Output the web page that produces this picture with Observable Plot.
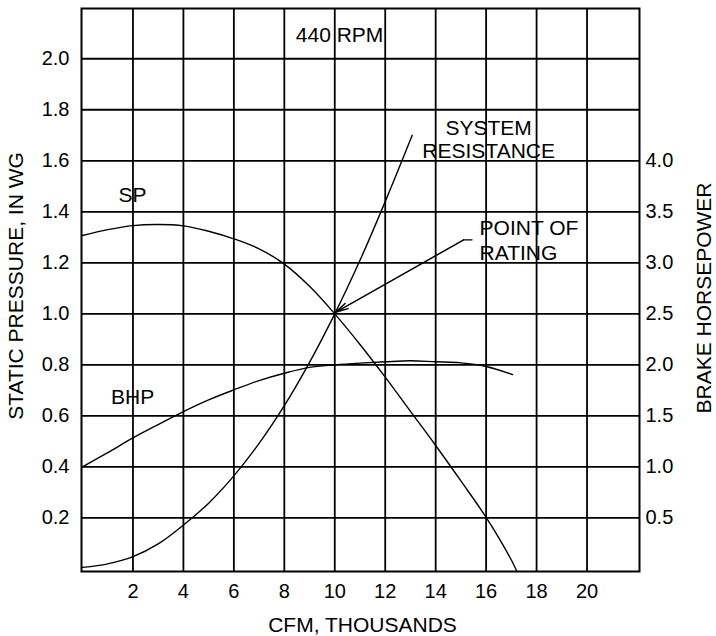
<!DOCTYPE html>
<html>
<head>
<meta charset="utf-8">
<script src="https://cdn.jsdelivr.net/npm/d3@7"></script>
<script src="https://cdn.jsdelivr.net/npm/@observablehq/plot@0.6"></script>
<style>
html, body { margin: 0; padding: 0; background: #fff; }
#chart svg { display: block; }
</style>
</head>
<body>
<div id="chart"></div>
<script>
// Static pressure curve (in. WG) vs CFM (thousands)
const spCfm    = [0, 1, 2, 3, 4, 5, 6, 7, 8, 9, 10, 11, 12, 13, 14, 15, 16, 17, 17.22];
const spValues = [1.307, 1.33, 1.346, 1.35, 1.345, 1.324, 1.294, 1.255, 1.195, 1.108, 1.0, 0.88, 0.752, 0.618, 0.484, 0.345, 0.202, 0.035, -0.01];

// Brake horsepower curve (read on right axis)
const bhpCfm    = [0, 1, 2, 3, 4, 5, 6, 7, 8, 9, 10, 11, 12, 13, 14, 15, 16, 17.05];
const bhpValues = [1.0, 1.14, 1.284, 1.415, 1.542, 1.657, 1.755, 1.846, 1.918, 1.976, 2.0, 2.017, 2.03, 2.04, 2.03, 2.02, 1.984, 1.905];

// System resistance curve (in. WG)
const sysCfm    = [0, 1, 2, 3, 4, 5, 6, 7, 8, 9, 10, 11, 12, 13.07];
const sysValues = [0.006, 0.02, 0.048, 0.098, 0.172, 0.258, 0.365, 0.492, 0.64, 0.81, 1.0, 1.21, 1.44, 1.70];

// Tick labels
const xTicks   = [2, 4, 6, 8, 10, 12, 14, 16, 18, 20];
const spTicks  = [0.2, 0.4, 0.6, 0.8, 1.0, 1.2, 1.4, 1.6, 1.8, 2.0];
const bhpTicks = [0.5, 1.0, 1.5, 2.0, 2.5, 3.0, 3.5, 4.0];
const bhpPerSp = 2.5; // right axis: BHP = 2.5 × left-axis value

// Axis titles
const xTitle = "CFM, THOUSANDS";
const leftTitle = "STATIC PRESSURE, IN WG";
const rightTitle = "BRAKE HORSEPOWER";

// Annotations
const singleLabels = ["SP", "BHP", "440 RPM"];
const singleLabelX = [1.98, 1.99, 10.19];
const singleLabelY = [1.465, 0.6725, 2.094];

const sysLabel = "SYSTEM\nRESISTANCE";
const sysLabelX = [16.1];
const sysLabelY = [1.686];

const ratingLabel = "POINT OF\nRATING";
const ratingLabelX = [15.74];
const ratingLabelY = [1.291];

// Leader for "POINT OF RATING"
const leaderX = [15.44, 15.11];
const leaderY = [1.29, 1.29];
const arrowFrom = [15.11, 1.29];
const arrowTo = [10.03, 1.006];

const font = "'Liberation Sans', Arial, Helvetica, sans-serif";

const spData  = spCfm.map((x, i) => ({x, y: spValues[i]}));
const bhpData = bhpCfm.map((x, i) => ({x, y: bhpValues[i] / bhpPerSp}));
const sysData = sysCfm.map((x, i) => ({x, y: sysValues[i]}));
const singleData = singleLabels.map((t, i) => ({t, x: singleLabelX[i], y: singleLabelY[i]}));

const plot = Plot.plot({
  width: 716,
  height: 636,
  marginTop: 8,
  marginBottom: 65,
  marginLeft: 81,
  marginRight: 77,
  style: {fontFamily: font, fontSize: "20px", background: "#fff", color: "#000"},
  x: {domain: [-0.04, 22.08]},
  y: {domain: [-0.01, 2.197]},
  marks: [
    Plot.ruleX(xTicks, {stroke: "#000", strokeWidth: 1.8}),
    Plot.ruleY(spTicks, {stroke: "#000", strokeWidth: 1.8}),
    Plot.frame({stroke: "#000", strokeWidth: 2}),
    Plot.axisX(xTicks, {anchor: "bottom", tickSize: 0, tickPadding: 12, label: null, fontSize: 20}),
    Plot.axisY(spTicks, {anchor: "left", tickSize: 0, tickPadding: 12, label: null, fontSize: 20, tickFormat: d3.format(".1f")}),
    Plot.axisY(bhpTicks.map(v => v / bhpPerSp), {anchor: "right", tickSize: 0, tickPadding: 6, label: null, fontSize: 20, tickFormat: d => d3.format(".1f")(d * bhpPerSp)}),
    Plot.text([xTitle], {frameAnchor: "bottom", lineAnchor: "middle", textAnchor: "middle", dy: 54, dx: 2, fontSize: 21, fill: "#000"}),
    Plot.text([leftTitle], {frameAnchor: "left", textAnchor: "middle", lineAnchor: "middle", rotate: -90, dx: -65.5, dy: -4, fontSize: 21, fill: "#000"}),
    Plot.text([rightTitle], {frameAnchor: "right", textAnchor: "middle", lineAnchor: "middle", rotate: -90, dx: 65, dy: 8, fontSize: 21, fill: "#000"}),
    Plot.text(singleData, {x: "x", y: "y", text: "t", fontSize: 21, fill: "#000", ariaLabel: "boxed-label"}),
    Plot.text([sysLabel], {x: sysLabelX, y: sysLabelY, fontSize: 21, lineHeight: 1.11, fill: "#000", ariaLabel: "boxed-label"}),
    Plot.text([ratingLabel], {x: ratingLabelX, y: ratingLabelY, textAnchor: "start", fontSize: 21, lineHeight: 1.19, fill: "#000", ariaLabel: "boxed-label"}),
    Plot.line(spData, {x: "x", y: "y", curve: "catmull-rom", stroke: "#000", strokeWidth: 1.4}),
    Plot.line(bhpData, {x: "x", y: "y", curve: "catmull-rom", stroke: "#000", strokeWidth: 1.4}),
    Plot.line(sysData, {x: "x", y: "y", curve: "catmull-rom", stroke: "#000", strokeWidth: 1.4}),
    Plot.line(leaderX.map((x, i) => ({x, y: leaderY[i]})), {x: "x", y: "y", stroke: "#000", strokeWidth: 1.4}),
    Plot.arrow([{x1: arrowFrom[0], y1: arrowFrom[1], x2: arrowTo[0], y2: arrowTo[1]}], {x1: "x1", y1: "y1", x2: "x2", y2: "y2", stroke: "#000", strokeWidth: 1.5, headLength: 13, headAngle: 26})
  ]
});
document.getElementById("chart").appendChild(plot);

// White background boxes behind the in-chart labels (sized from each label's own bounding box)
plot.querySelectorAll('g[aria-label="boxed-label"] text').forEach(t => {
  const b = t.getBBox();
  const r = document.createElementNS("http://www.w3.org/2000/svg", "rect");
  r.setAttribute("x", b.x - 3);
  r.setAttribute("y", b.y - 0.5);
  r.setAttribute("width", b.width + 6);
  r.setAttribute("height", Math.max(0, b.height - 2.5));
  r.setAttribute("fill", "#fff");
  r.setAttribute("stroke", "none");
  const tr = t.getAttribute("transform");
  if (tr) r.setAttribute("transform", tr);
  t.parentNode.insertBefore(r, t);
});
</script>
</body>
</html>
